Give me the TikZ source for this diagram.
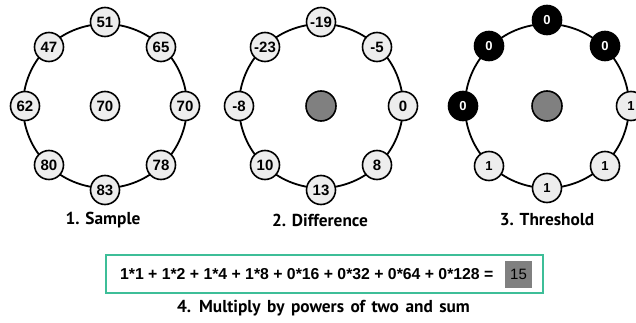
\documentclass[tikz,border=0pt]{standalone}
\usepackage{fontspec}
\usetikzlibrary{calc}
\setmainfont{Liberation Sans}[BoldFont={Liberation Sans Bold}]
\newfontfamily\capfont{PT Sans}[BoldFont={PT Sans Bold}]
\definecolor{nodefill}{HTML}{EDEDED}
\definecolor{midgray}{HTML}{808080}
\definecolor{boxgreen}{HTML}{3DBE98}
\begin{document}
\begin{tikzpicture}[x=1pt,y=-1pt,
  ring/.style={line width=1.8pt},
  pix/.style={circle,draw=black,line width=1.6pt,fill=nodefill,minimum size=29pt,inner sep=0pt,
    font=\bfseries\fontsize{15}{15}\selectfont},
  bit/.style={pix,font=\bfseries\fontsize{13}{13}\selectfont},
  blk/.style={bit,fill=black,text=white},
  ctr/.style={circle,draw=black,line width=1.6pt,fill=midgray,minimum size=30pt,inner sep=0pt},
  captext/.style={font=\capfont\bfseries\fontsize{17.3}{18}\selectfont},
  eqbox/.style={draw=boxgreen,line width=2pt,minimum width=437pt,minimum height=38pt,inner sep=0pt},
  sumbox/.style={fill=midgray,minimum width=27pt,minimum height=27pt,inner sep=0pt,
    font=\fontsize{15}{15}\selectfont}
]
\useasboundingbox (0,0) rectangle (636,323);
% ring 1
\coordinate (c1) at (105,106);
\draw[ring] (c1) circle (82);
\node[pix] (a0) at (c1) {70};
\node[pix] (a1) at ($(c1)+(0,-84)$) {51};
\node[pix] (a2) at ($(c1)+(56,-59)$) {65};
\node[pix] (a3) at ($(c1)+(80,0)$) {70};
\node[pix] (a4) at ($(c1)+(56,59)$) {78};
\node[pix] (a5) at ($(c1)+(0,84)$) {83};
\node[pix] (a6) at ($(c1)+(-56,59)$) {80};
\node[pix] (a7) at ($(c1)+(-80,0)$) {62};
\node[pix] (a8) at ($(c1)+(-56,-59)$) {47};
\node[captext] (l1) at (103,220) {1. Sample};
% ring 2
\coordinate (c2) at (321,106);
\draw[ring] (c2) circle (82);
\node[ctr] (b0) at (c2) {};
\node[pix] (b1) at ($(c2)+(0,-84)$) {-19};
\node[pix] (b2) at ($(c2)+(56,-59)$) {-5};
\node[pix] (b3) at ($(c2)+(82,0)$) {0};
\node[pix] (b4) at ($(c2)+(56,59)$) {8};
\node[pix] (b5) at ($(c2)+(0,84)$) {13};
\node[pix] (b6) at ($(c2)+(-56,59)$) {10};
\node[pix] (b7) at ($(c2)+(-82,0)$) {-8};
\node[pix] (b8) at ($(c2)+(-56,-59)$) {-23};
\node[captext] (l2) at (320,220) {2. Difference};
% ring 3
\coordinate (c3) at (547,106);
\draw[ring] (c3) circle (82);
\node[ctr] (t0) at (c3) {};
\node[blk] (t1) at ($(c3)+(0,-86)$) {0};
\node[blk] (t2) at ($(c3)+(58,-60)$) {0};
\node[bit] (t3) at ($(c3)+(84,0)$) {1};
\node[bit] (t4) at ($(c3)+(58,60)$) {1};
\node[bit] (t5) at ($(c3)+(0,82)$) {1};
\node[bit] (t6) at ($(c3)+(-58,60)$) {1};
\node[blk] (t7) at ($(c3)+(-84,0)$) {0};
\node[blk] (t8) at ($(c3)+(-58,-60)$) {0};
\node[captext] (l3) at (547,220) {3. Threshold};
% equation
\node[eqbox] (eq) at (324.5,274) {};
\node[anchor=east,font=\bfseries\fontsize{15.8}{16}\selectfont] (eqt) at (497,274) {1*1 + 1*2 + 1*4 + 1*8 + 0*16 + 0*32 + 0*64 + 0*128 =};
\node[sumbox] (sum) at (518.5,274.5) {15};
\node[captext] (l4) at (323.5,308) {\spaceskip=6.5pt plus 1pt 4. Multiply by powers of two and sum};
\end{tikzpicture}
\end{document}
